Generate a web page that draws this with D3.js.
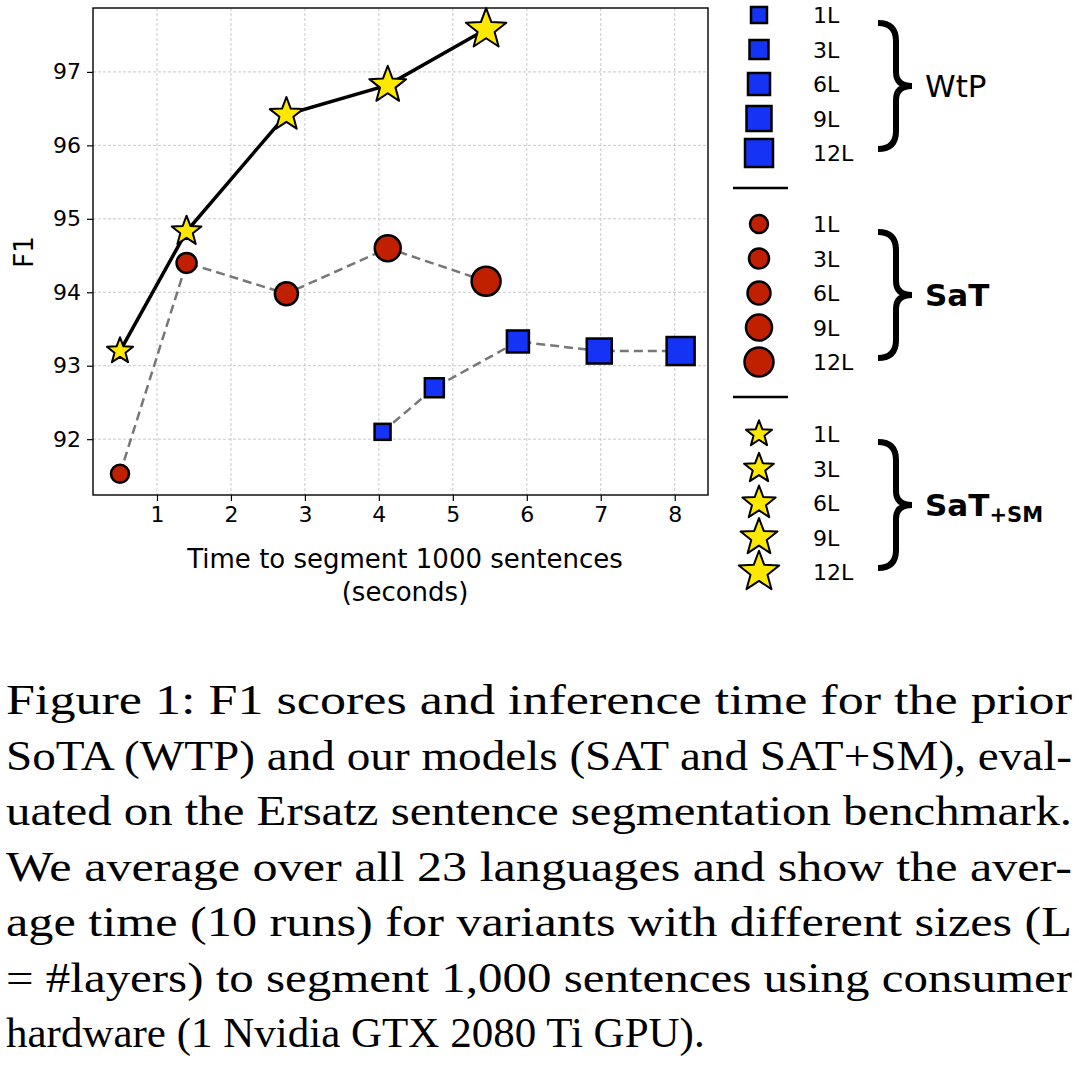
<!DOCTYPE html>
<html><head><meta charset="utf-8">
<script src="https://cdn.jsdelivr.net/npm/d3@7"></script>
<style>body{margin:0;background:#fff}</style>
</head><body>
<svg width="1079" height="1069"></svg>
<script>
// DATA
const layers = ["1L", "3L", "6L", "9L", "12L"];
const wtpTime = [4.05, 4.75, 5.88, 6.98, 8.08];
const wtpF1 = [92.1, 92.7, 93.33, 93.2, 93.2];
const satTime = [0.5, 1.4, 2.75, 4.12, 5.45];
const satF1 = [91.53, 94.4, 93.98, 94.6, 94.15];
const smTime = [0.5, 1.4, 2.75, 4.12, 5.45];
const smF1 = [93.2, 94.83, 96.42, 96.82, 97.58];
const xTicks = [1, 2, 3, 4, 5, 6, 7, 8];
const yTicks = [92, 93, 94, 95, 96, 97];
const caption = [
  "Figure 1:  F1 scores and inference time for the prior",
  "SoTA (WTP) and our models (SAT and SAT+SM), eval-",
  "uated on the Ersatz sentence segmentation benchmark.",
  "We average over all 23 languages and show the aver-",
  "age time (10 runs) for variants with different sizes (L",
  "= #layers) to segment 1,000 sentences using consumer",
  "hardware (1 Nvidia GTX 2080 Ti GPU)."
];

const svg = d3.select("svg");
const font = "DejaVu Sans";
const plot = { left: 93, right: 708, top: 8, bottom: 495 };
const x = d3.scaleLinear().domain([0.135, 8.45]).range([plot.left, plot.right]);
const y = d3.scaleLinear().domain([91.24, 97.87]).range([plot.bottom, plot.top]);

// grid
const g = svg.append("g");
g.selectAll(".gx").data(xTicks).join("line")
  .attr("x1", d => x(d)).attr("x2", d => x(d)).attr("y1", plot.top).attr("y2", plot.bottom)
  .attr("stroke", "#bbb").attr("stroke-width", 0.8).attr("stroke-dasharray", "3,2");
g.selectAll(".gy").data(yTicks).join("line")
  .attr("y1", d => y(d)).attr("y2", d => y(d)).attr("x1", plot.left).attr("x2", plot.right)
  .attr("stroke", "#bbb").attr("stroke-width", 0.8).attr("stroke-dasharray", "3,2");

const xAxis = svg.append("g").attr("transform", `translate(0,${plot.bottom})`)
  .call(d3.axisBottom(x).tickValues(xTicks).tickFormat(d3.format("d")).tickSize(6).tickPadding(5));
const yAxis = svg.append("g").attr("transform", `translate(${plot.left},0)`)
  .call(d3.axisLeft(y).tickValues(yTicks).tickFormat(d3.format("d")).tickSize(6).tickPadding(6));
[xAxis, yAxis].forEach(a => {
  a.select(".domain").remove();
  a.selectAll("line").attr("stroke", "#000").attr("stroke-width", 1.2);
  a.selectAll("text").attr("font-family", font).attr("font-size", 22).attr("fill", "#000");
});
svg.append("rect").attr("x", plot.left).attr("y", plot.top)
  .attr("width", plot.right - plot.left).attr("height", plot.bottom - plot.top)
  .attr("fill", "none").attr("stroke", "#000").attr("stroke-width", 1.4);

svg.append("text").attr("x", 405).attr("y", 568).attr("text-anchor", "middle")
  .attr("font-family", font).attr("font-size", 26).text("Time to segment 1000 sentences");
svg.append("text").attr("x", 405).attr("y", 601).attr("text-anchor", "middle")
  .attr("font-family", font).attr("font-size", 26).text("(seconds)");
svg.append("text").attr("transform", "translate(33,252) rotate(-90)").attr("text-anchor", "middle")
  .attr("font-family", font).attr("font-size", 26).text("F1");

const line = d3.line().x(d => x(d[0])).y(d => y(d[1]));
const zip = (a, b) => a.map((v, i) => [v, b[i]]);

const sqSize = [16, 19, 22, 25, 28];
const ciSize = [18, 20, 23, 26, 29];
const stSize = [22, 25, 28, 31, 34];

function star(cx, cy, s) {
  const R = s / 2, r = R * 0.42, pts = [];
  for (let i = 0; i < 10; i++) {
    const a = -Math.PI / 2 + i * Math.PI / 5, rr = i % 2 ? r : R;
    pts.push([cx + rr * Math.cos(a), cy + rr * Math.sin(a)]);
  }
  return "M" + pts.join("L") + "Z";
}

function drawSeries(data, type, dashed) {
  svg.append("path").attr("d", line(data)).attr("fill", "none")
    .attr("stroke", dashed ? "#777" : "#000").attr("stroke-width", dashed ? 2.5 : 3.5)
    .attr("stroke-dasharray", dashed ? "9,5" : null);
  data.forEach((d, i) => drawMarker(type, x(d[0]), y(d[1]), i));
}
function drawMarker(type, cx, cy, i) {
  if (type === "sq") {
    const s = sqSize[i];
    svg.append("rect").attr("x", cx - s / 2).attr("y", cy - s / 2).attr("width", s).attr("height", s)
      .attr("fill", "#1533f5").attr("stroke", "#000").attr("stroke-width", 2.5);
  } else if (type === "ci") {
    svg.append("circle").attr("cx", cx).attr("cy", cy).attr("r", ciSize[i] / 2)
      .attr("fill", "#c02000").attr("stroke", "#000").attr("stroke-width", 2.5);
  } else {
    svg.append("path").attr("d", star(cx, cy, stSize[i] * 1.25))
      .attr("fill", "#ffe800").attr("stroke", "#000").attr("stroke-width", 2).attr("stroke-linejoin", "round");
  }
}
drawSeries(zip(wtpTime, wtpF1), "sq", true);
drawSeries(zip(satTime, satF1), "ci", true);
drawSeries(zip(smTime, smF1), "st", false);

// legend
const groups = [
  { type: "sq", y0: 15, label: "WtP", bold: false },
  { type: "ci", y0: 224, label: "SaT", bold: true },
  { type: "st", y0: 434, label: "SaT", sub: "+SM", bold: true }
];
groups.forEach((gr, gi) => {
  layers.forEach((l, i) => {
    const cy = gr.y0 + i * 34.5;
    drawMarker(gr.type, 759, cy, i);
    svg.append("text").attr("x", 813).attr("y", cy + 8).attr("font-family", font)
      .attr("font-size", 22).text(l);
  });
  const top = gr.y0 + 8, bot = gr.y0 + 4 * 34.5 - 4, mid = (top + bot) / 2;
  svg.append("path")
    .attr("d", `M878,${top} Q896,${top} 896,${top + 18} L896,${mid - 14} Q896,${mid} 912,${mid} Q896,${mid} 896,${mid + 14} L896,${bot - 18} Q896,${bot} 878,${bot}`)
    .attr("fill", "none").attr("stroke", "#000").attr("stroke-width", 6);
  const t = svg.append("text").attr("x", 925).attr("y", mid + 11).attr("font-family", font)
    .attr("font-size", 31).attr("font-weight", gr.bold ? "bold" : "normal").text(gr.label);
  if (gr.sub) t.append("tspan").attr("font-size", 21).attr("dy", 6).text(gr.sub);
  if (gi < 2) svg.append("line").attr("x1", 733).attr("x2", 788)
    .attr("y1", gr.y0 + 173).attr("y2", gr.y0 + 173).attr("stroke", "#000").attr("stroke-width", 2.5);
});

// caption
svg.selectAll(".cap").data(caption).join("text")
  .attr("x", 6).attr("y", (d, i) => 714 + i * 55.5)
  .attr("font-family", "Liberation Serif").attr("font-size", 43)
  .attr("textLength", (d, i) => i === caption.length - 1 ? null : 1066)
  .attr("lengthAdjust", "spacingAndGlyphs")
  .text(d => d);
</script>
</body></html>
